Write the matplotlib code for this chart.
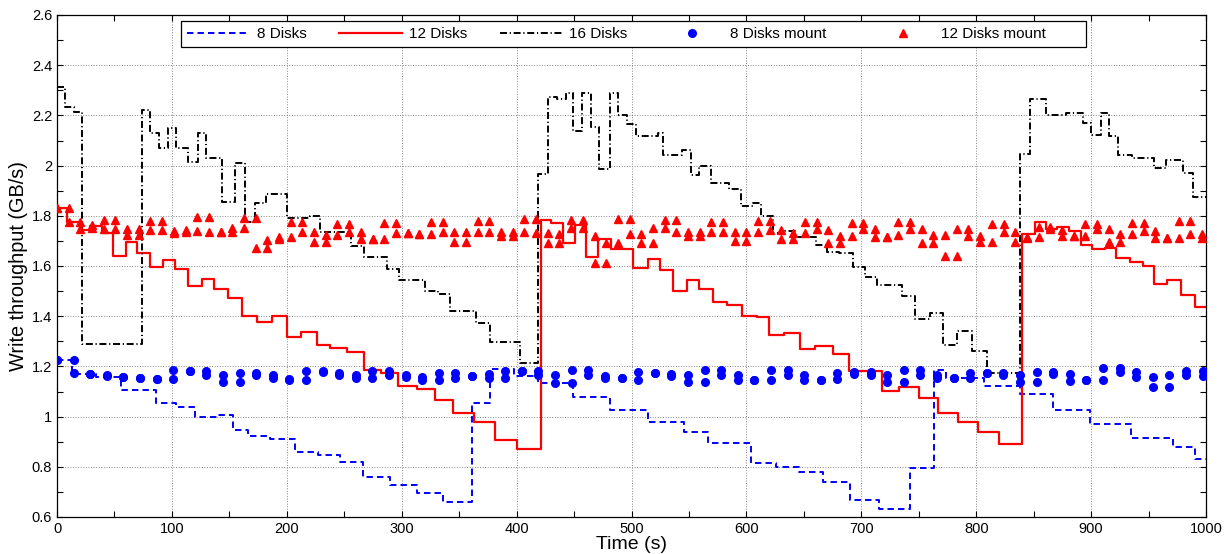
import numpy as np
import matplotlib
matplotlib.use('Agg')
import matplotlib.pyplot as plt
from matplotlib.ticker import MultipleLocator, FormatStrFormatter

# フォント設定
plt.rcParams['font.family'] = ['Liberation Sans', 'DejaVu Sans']
plt.rcParams['font.size'] = 10

# 8 Disks (ステップの区切り時刻と値)
disk8_edges = [0, 13, 34, 56, 86, 104, 120, 139, 153, 166, 185, 207, 227, 246, 266, 290,
               313, 336, 361, 377, 398, 419, 449, 481, 514, 546, 567, 604, 626, 646, 667,
               690, 715, 742, 763, 774, 807, 838, 867, 899, 935, 971, 990, 1000]
disk8_vals = [1.225, 1.168, 1.156, 1.106, 1.053, 1.040, 1.000, 1.006, 0.947, 0.923, 0.910,
              0.857, 0.848, 0.818, 0.759, 0.729, 0.697, 0.661, 1.053, 1.188, 1.162, 1.133,
              1.079, 1.026, 0.980, 0.940, 0.894, 0.816, 0.800, 0.779, 0.741, 0.668, 0.632,
              0.794, 1.186, 1.155, 1.122, 1.090, 1.026, 0.971, 0.914, 0.878, 0.831]

# 12 Disks
disk12_edges = [0, 9, 20, 29, 39, 49, 60, 70, 81, 92, 103, 114, 126, 137, 149, 161, 174, 187,
                200, 212, 226, 238, 252, 267, 282, 297, 313, 329, 345, 363, 381, 400, 421,
                430, 440, 451, 460, 471, 482, 501, 514, 525, 536, 548, 559, 571, 583, 596,
                609, 620, 633, 647, 660, 675, 689, 703, 718, 733, 750, 767, 784, 802, 820,
                840, 851, 861, 870, 881, 891, 901, 912, 922, 934, 945, 955, 966, 978, 990, 1000]
disk12_vals = [1.830, 1.777, 1.742, 1.760, 1.733, 1.640, 1.695, 1.653, 1.595, 1.622, 1.590,
               1.520, 1.548, 1.509, 1.471, 1.399, 1.375, 1.400, 1.319, 1.339, 1.286, 1.273,
               1.257, 1.187, 1.173, 1.120, 1.110, 1.068, 1.013, 0.980, 0.907, 0.871,
               1.785, 1.773, 1.693, 1.763, 1.637, 1.707, 1.666, 1.591, 1.626, 1.584, 1.502,
               1.544, 1.509, 1.458, 1.445, 1.401, 1.398, 1.326, 1.335, 1.269, 1.281, 1.250,
               1.182, 1.180, 1.102, 1.116, 1.076, 1.013, 0.980, 0.937, 0.891,
               1.726, 1.777, 1.746, 1.756, 1.740, 1.684, 1.668, 1.673, 1.631, 1.615, 1.600,
               1.530, 1.544, 1.485, 1.436]

# 16 Disks
disk16_edges = [0, 7, 14.5, 22, 74, 81, 89, 97, 104, 114, 123, 130, 144, 155, 164, 172, 182,
                200, 220, 229, 256, 267, 287, 298, 320, 332, 342, 365, 377, 403, 419,
                427, 435, 443, 449, 457, 465, 472, 481, 488, 496, 504, 523, 527, 544, 552,
                559, 569, 585, 595, 606, 613, 623, 634, 642, 661, 670, 681, 693, 703, 714,
                735, 747, 760, 771, 783, 796, 809, 838,
                847, 861, 878, 893, 900, 909, 916, 923, 936, 955, 965, 980, 989, 1000]
disk16_vals = [2.312, 2.235, 2.215, 1.290, 2.222, 2.131, 2.069, 2.149, 2.069, 2.016, 2.129,
               2.029, 1.856, 2.012, 1.777, 1.850, 1.888, 1.790, 1.799, 1.737, 1.680, 1.637,
               1.587, 1.544, 1.500, 1.487, 1.420, 1.372, 1.298, 1.212,
               1.967, 2.275, 2.264, 2.288, 2.138, 2.288, 2.155, 1.985, 2.288, 2.202, 2.166,
               2.118, 2.129, 2.042, 2.062, 1.963, 1.998, 1.932, 1.905, 1.840, 1.850, 1.799,
               1.733, 1.740, 1.714, 1.685, 1.657, 1.651, 1.597, 1.557, 1.523, 1.481, 1.390,
               1.412, 1.287, 1.340, 1.263, 1.174,
               2.046, 2.265, 2.202, 2.208, 2.168, 2.122, 2.208, 2.118, 2.042, 2.029, 1.989,
               2.022, 1.969, 1.876]

# 8 Disks mount (約14.45秒ごとの計測点, 2回分)
mount8_step = 14.45
mount8_a = [1.225, 1.226, 1.169, 1.167, 1.156, 1.153, 1.151, 1.185, 1.183, 1.183,
            1.165, 1.173, 1.173, 1.165, 1.149, 1.183, 1.180, 1.173, 1.165, 1.180,
            1.180, 1.165, 1.156, 1.173, 1.173, 1.160, 1.169, 1.183, 1.183, 1.180,
            1.165, 1.187, 1.187, 1.163, 1.152, 1.176, 1.172, 1.169, 1.165, 1.187,
            1.187, 1.165, 1.147, 1.187, 1.187, 1.165, 1.144, 1.173, 1.179, 1.179,
            1.165, 1.187, 1.187, 1.165, 1.153, 1.173, 1.173, 1.173, 1.165, 1.179,
            1.179, 1.171, 1.144, 1.193, 1.193, 1.176, 1.157, 1.165, 1.180, 1.180]
mount8_b = [1.225, 1.172, 1.169, 1.163, 1.156, 1.153, 1.151, 1.148, 1.183, 1.167,
            1.136, 1.136, 1.165, 1.152, 1.146, 1.144, 1.178, 1.165, 1.152, 1.153,
            1.165, 1.156, 1.147, 1.144, 1.153, 1.160, 1.153, 1.152, 1.183, 1.164,
            1.134, 1.134, 1.165, 1.152, 1.152, 1.144, 1.172, 1.163, 1.136, 1.136,
            1.165, 1.147, 1.147, 1.144, 1.165, 1.144, 1.144, 1.150, 1.171, 1.164,
            1.136, 1.136, 1.165, 1.153, 1.153, 1.152, 1.173, 1.165, 1.136, 1.136,
            1.171, 1.143, 1.144, 1.147, 1.176, 1.157, 1.116, 1.116, 1.165, 1.160]

# 12 Disks mount (約10.17秒ごとの計測点, 2回分)
mount12_step = 10.17
mount12_a = [1.830, 1.830, 1.777, 1.762, 1.783, 1.783, 1.746, 1.746, 1.780, 1.780,
             1.739, 1.743, 1.795, 1.795, 1.737, 1.753, 1.790, 1.790, 1.704, 1.714,
             1.776, 1.776, 1.737, 1.724, 1.766, 1.766, 1.737, 1.706, 1.770, 1.770,
             1.730, 1.726, 1.776, 1.776, 1.734, 1.734, 1.779, 1.779, 1.734, 1.734,
             1.787, 1.787, 1.730, 1.726, 1.785, 1.785, 1.719, 1.690, 1.787, 1.787,
             1.727, 1.750, 1.783, 1.783, 1.736, 1.736, 1.776, 1.776, 1.736, 1.736,
             1.780, 1.780, 1.743, 1.730, 1.774, 1.774, 1.743, 1.720, 1.772, 1.772,
             1.746, 1.717, 1.776, 1.776, 1.746, 1.723, 1.723, 1.746, 1.746, 1.720,
             1.766, 1.766, 1.736, 1.717, 1.756, 1.756, 1.743, 1.720, 1.766, 1.766,
             1.747, 1.726, 1.770, 1.770, 1.740, 1.713, 1.780, 1.780, 1.726]
mount12_b = [1.830, 1.777, 1.746, 1.753, 1.746, 1.746, 1.724, 1.724, 1.743, 1.743,
             1.731, 1.737, 1.739, 1.737, 1.737, 1.737, 1.750, 1.670, 1.670, 1.706,
             1.714, 1.737, 1.697, 1.697, 1.724, 1.737, 1.706, 1.706, 1.706, 1.730,
             1.730, 1.726, 1.726, 1.734, 1.697, 1.697, 1.736, 1.736, 1.719, 1.719,
             1.736, 1.732, 1.690, 1.690, 1.750, 1.750, 1.611, 1.611, 1.690, 1.727,
             1.690, 1.690, 1.750, 1.736, 1.720, 1.720, 1.736, 1.736, 1.701, 1.701,
             1.736, 1.743, 1.706, 1.706, 1.730, 1.746, 1.690, 1.690, 1.720, 1.746,
             1.717, 1.717, 1.723, 1.746, 1.690, 1.690, 1.640, 1.640, 1.720, 1.694,
             1.694, 1.736, 1.694, 1.710, 1.717, 1.746, 1.720, 1.720, 1.720, 1.747,
             1.697, 1.697, 1.726, 1.740, 1.713, 1.713, 1.713, 1.726, 1.713]

labels = ['8 Disks', '12 Disks', '16 Disks', '8 Disks mount', '12 Disks mount']


def plot_steps(ax, edges, values, **kw):
    # 最後の区間まで描くため値を一つ足す
    return ax.step(edges, list(values) + [values[-1]], where='post', **kw)[0]


def main():
    fig = plt.figure(figsize=(12.25, 5.54), dpi=100)
    ax = fig.add_axes([57 / 1225, 37 / 554, 1149 / 1225, 502 / 554])

    h8 = plot_steps(ax, disk8_edges, disk8_vals, color='blue', lw=1.4,
                    dashes=(3.3, 2.1), zorder=3)
    h12 = plot_steps(ax, disk12_edges, disk12_vals, color='red', lw=1.6, zorder=3)
    h16 = plot_steps(ax, disk16_edges, disk16_vals, color='black', lw=1.4,
                     dashes=(3.6, 1.4, 0.6, 1.4), zorder=3)

    t8 = np.arange(len(mount8_a)) * mount8_step
    t12 = np.arange(len(mount12_a)) * mount12_step
    hm8, = ax.plot(t8, mount8_a, 'o', color='blue', ms=5.5, mec='blue', zorder=4)
    ax.plot(t8, mount8_b, 'o', color='blue', ms=5.5, mec='blue', zorder=4)
    hm12, = ax.plot(t12, mount12_a, '^', color='red', ms=6, mec='red', zorder=4)
    ax.plot(t12, mount12_b, '^', color='red', ms=6, mec='red', zorder=4)

    ax.set_xlim(0, 1000)
    ax.set_ylim(0.6, 2.6)
    ax.xaxis.set_major_locator(MultipleLocator(100))
    ax.xaxis.set_minor_locator(MultipleLocator(50))
    ax.yaxis.set_major_locator(MultipleLocator(0.2))
    ax.yaxis.set_minor_locator(MultipleLocator(0.1))
    ax.yaxis.set_major_formatter(FormatStrFormatter('%g'))
    ax.tick_params(which='both', direction='in', top=True, right=True,
                   length=4.5, width=0.8, labelsize=10.5)
    ax.grid(which='major', linestyle=':', color='#888888', lw=0.7)
    for s in ax.spines.values():
        s.set_linewidth(0.9)

    ax.set_xlabel('Time (s)', fontsize=14, labelpad=0)
    ax.set_ylabel('Write throughput (GB/s)', fontsize=14.3, labelpad=3)

    # 凡例 (MATLAB風に右側の余白を広めにとる)
    leg_labels = labels[:3] + [labels[3] + '   ', labels[4] + '        ']
    leg = ax.legend([h8, h12, h16, hm8, hm12], leg_labels, ncol=5, loc='upper left',
                    bbox_to_anchor=((181 - 57) / 1149, 1 - 6 / 502), borderaxespad=0,
                    fancybox=False, framealpha=1, edgecolor='black',
                    handlelength=4.1, handletextpad=0.45, numpoints=1,
                    columnspacing=2.15, borderpad=0.4, fontsize=11)
    leg.get_frame().set_linewidth(0.9)

    fig.savefig('out.png', dpi=100)


if __name__ == '__main__':
    main()
